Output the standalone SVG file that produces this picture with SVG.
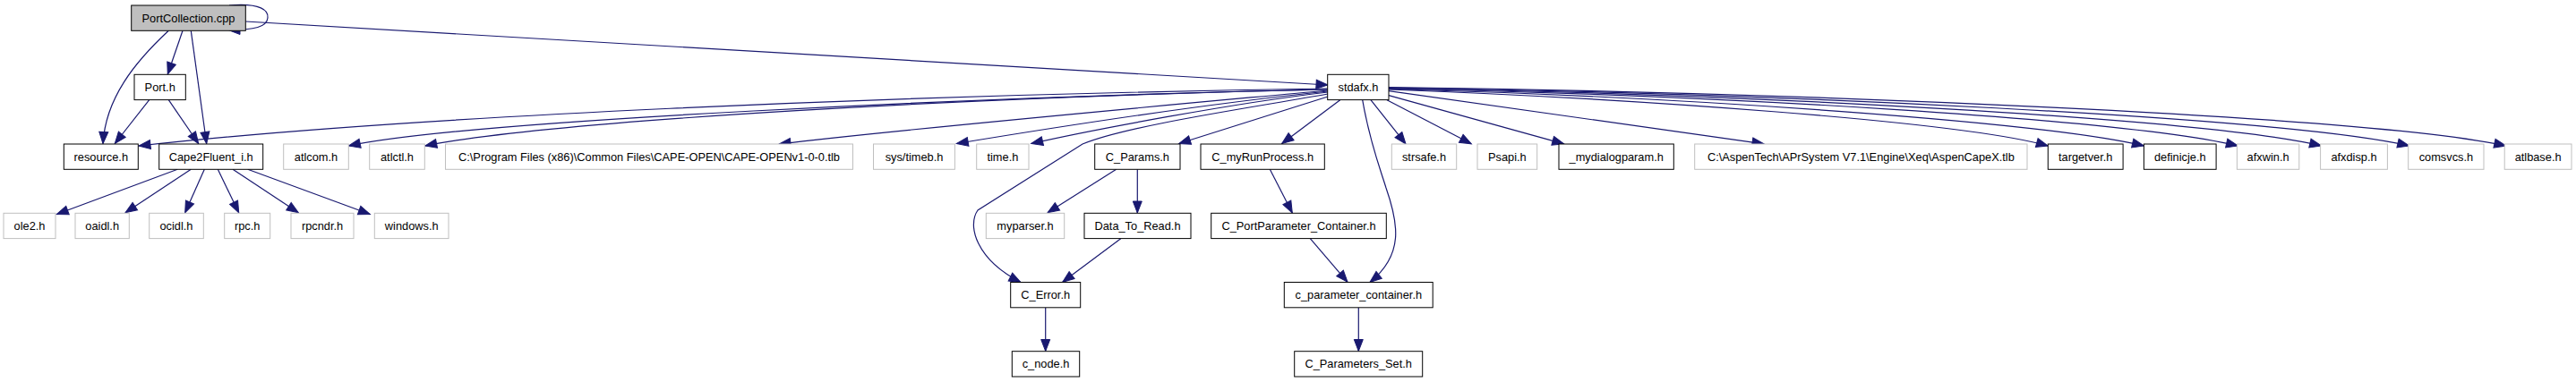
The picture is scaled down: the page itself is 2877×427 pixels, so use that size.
<svg xmlns="http://www.w3.org/2000/svg" width="2877" height="427" viewBox="0 0 2877 427">
<style>
.n rect{fill:#ffffff;stroke:#000000;stroke-width:1}
.g rect{fill:#ffffff;stroke:#bfbfbf;stroke-width:1}
.r rect{fill:#bfbfbf;stroke:#000000;stroke-width:1}
text{font-family:"Liberation Sans",Arial,Helvetica,sans-serif;font-size:12.8px;fill:#000000;text-anchor:middle}
#edges path{fill:none;stroke:#191970;stroke-width:1.2;marker-end:url(#a)}
</style>
<defs>
<marker id="a" markerUnits="userSpaceOnUse" markerWidth="14" markerHeight="11" viewBox="0 0 14 11" refX="13" refY="5" orient="auto" overflow="visible">
<path d="M0,0 L13,5 L0,10 z" fill="#191970" stroke="#191970" stroke-width="1"/>
</marker>
</defs>
<rect width="2877" height="427" fill="#ffffff"/>
<g id="edges">
<path d="M256,6 C292,3 300,12 299,20 C298,30 285,33.5 255,33.5"/>
<path d="M188.3,34.3 C150,70 118,110 115,160.5"/>
<path d="M204,34.3 L187.3,83"/>
<path d="M213.3,34.3 L230.7,160.5"/>
<path d="M274.3,24 L1483,95"/>
<path d="M166.7,111.7 L128.3,160.5"/>
<path d="M188.3,111.7 L221.7,160.5"/>
<path d="M198.3,189.3 L63.3,239.5"/>
<path d="M213.3,189.3 L140,237.8"/>
<path d="M228.3,189.3 L206.7,237.8"/>
<path d="M243.3,189.3 L266.7,237.8"/>
<path d="M260,189.3 L333.3,237.8"/>
<path d="M276.7,189.3 L413.3,239.5"/>
<path d="M1483,99 C1000,106 450,130 155,163"/>
<path d="M1483,100 C1100,108 520,135 389.4,163"/>
<path d="M1483,100 C1100,108 620,134 474.8,163"/>
<path d="M1483,101 C1300,118 1000,145 870,161"/>
<path d="M1483,102 C1330,118 1180,142 1068.3,160.5"/>
<path d="M1483,103 C1380,115 1220,145 1151.7,160.5"/>
<path d="M1483,105 C1400,120 1260,140 1209,161 L1092,235 C1080,252 1090,290 1140,315.5"/>
<path d="M1483,108 L1316.7,160.5"/>
<path d="M1496.7,111.7 L1431.7,160.5"/>
<path d="M1521.7,111.7 C1530,160 1542,190 1548,210 C1562,250 1568,285 1530,315.5"/>
<path d="M1530.9,111.7 L1570,160.8"/>
<path d="M1549,111.7 L1643.3,160.8"/>
<path d="M1551,106.7 L1746.7,160.8"/>
<path d="M1551,101.7 L1970,160.8"/>
<path d="M1551,100 C1816,110 2187,135 2287.3,163"/>
<path d="M1551,99.5 C1880,108 2280,136 2394.4,163"/>
<path d="M1551,99 C1920,106 2370,133 2499.4,163"/>
<path d="M1551,98.5 C1950,105 2460,132 2592.6,163"/>
<path d="M1551,98 C1980,104 2550,131 2690.7,163"/>
<path d="M1551,97.5 C2000,103 2650,130 2798.7,163"/>
<path d="M1246.7,189.3 L1170,237.8"/>
<path d="M1270.3,189.3 L1270.3,238"/>
<path d="M1251.7,266.7 L1186.7,315.3"/>
<path d="M1167.7,344 L1167.7,392.5"/>
<path d="M1418.3,189.3 L1443.3,238"/>
<path d="M1463.3,266.7 L1505,315.3"/>
<path d="M1517.3,344 L1517.3,392.5"/>
</g>
<g id="n_portcollection" class="r"><rect x="146.7" y="6" width="127.6" height="28.3"/><text x="210.5" y="24.7">PortCollection.cpp</text></g>
<g id="n_port" class="n"><rect x="150" y="83.3" width="57.3" height="28.3"/><text x="178.7" y="102">Port.h</text></g>
<g id="n_stdafx" class="n"><rect x="1482.7" y="83.3" width="68.3" height="28.3"/><text x="1516.9" y="102">stdafx.h</text></g>
<g id="n_resource" class="n"><rect x="71.3" y="161" width="83" height="28.3"/><text x="112.8" y="179.7">resource.h</text></g>
<g id="n_cape2fluent" class="n"><rect x="177.7" y="161" width="116" height="28.3"/><text x="235.7" y="179.7">Cape2Fluent_i.h</text></g>
<g id="n_atlcom" class="g"><rect x="316.7" y="161" width="72.6" height="28.3"/><text x="353" y="179.7">atlcom.h</text></g>
<g id="n_atlctl" class="g"><rect x="412.7" y="161" width="61.6" height="28.3"/><text x="443.5" y="179.7">atlctl.h</text></g>
<g id="n_capeopen_tlb" class="g"><rect x="497.5" y="161" width="455" height="28.3"/><text x="725" y="179.7">C:\Program Files (x86)\Common Files\CAPE-OPEN\CAPE-OPENv1-0-0.tlb</text></g>
<g id="n_systimeb" class="g"><rect x="975.5" y="161" width="90.9" height="28.3"/><text x="1021" y="179.7">sys/timeb.h</text></g>
<g id="n_time" class="g"><rect x="1090.7" y="161" width="58.3" height="28.3"/><text x="1119.9" y="179.7">time.h</text></g>
<g id="n_cparams" class="n"><rect x="1222.7" y="161" width="95.3" height="28.3"/><text x="1270.4" y="179.7">C_Params.h</text></g>
<g id="n_cmyrunprocess" class="n"><rect x="1341" y="161" width="138.3" height="28.3"/><text x="1410.2" y="179.7">C_myRunProcess.h</text></g>
<g id="n_strsafe" class="g"><rect x="1554.3" y="161" width="72.4" height="28.3"/><text x="1590.5" y="179.7">strsafe.h</text></g>
<g id="n_psapi" class="g"><rect x="1650" y="161" width="66.7" height="28.3"/><text x="1683.4" y="179.7">Psapi.h</text></g>
<g id="n_mydialogparam" class="n"><rect x="1741" y="161" width="128.3" height="28.3"/><text x="1805.2" y="179.7">_mydialogparam.h</text></g>
<g id="n_aspencapex_tlb" class="g"><rect x="1892.7" y="161" width="371.3" height="28.3"/><text x="2078.4" y="179.7">C:\AspenTech\APrSystem V7.1\Engine\Xeq\AspenCapeX.tlb</text></g>
<g id="n_targetver" class="n"><rect x="2287.3" y="161" width="83.8" height="28.3"/><text x="2329.2" y="179.7">targetver.h</text></g>
<g id="n_definicje" class="n"><rect x="2394.4" y="161" width="80.7" height="28.3"/><text x="2434.8" y="179.7">definicje.h</text></g>
<g id="n_afxwin" class="g"><rect x="2498.4" y="161" width="69.4" height="28.3"/><text x="2533.1" y="179.7">afxwin.h</text></g>
<g id="n_afxdisp" class="g"><rect x="2591.6" y="161" width="74.8" height="28.3"/><text x="2629" y="179.7">afxdisp.h</text></g>
<g id="n_comsvcs" class="g"><rect x="2689.7" y="161" width="84.3" height="28.3"/><text x="2731.9" y="179.7">comsvcs.h</text></g>
<g id="n_atlbase" class="g"><rect x="2797.2" y="161" width="74.8" height="28.3"/><text x="2834.6" y="179.7">atlbase.h</text></g>
<g id="n_ole2" class="g"><rect x="4" y="238.3" width="58" height="28.3"/><text x="33" y="257">ole2.h</text></g>
<g id="n_oaidl" class="g"><rect x="84" y="238.3" width="60.3" height="28.3"/><text x="114.2" y="257">oaidl.h</text></g>
<g id="n_ocidl" class="g"><rect x="166.7" y="238.3" width="60.6" height="28.3"/><text x="197" y="257">ocidl.h</text></g>
<g id="n_rpc" class="g"><rect x="250.7" y="238.3" width="51" height="28.3"/><text x="276.2" y="257">rpc.h</text></g>
<g id="n_rpcndr" class="g"><rect x="325" y="238.3" width="70" height="28.3"/><text x="360" y="257">rpcndr.h</text></g>
<g id="n_windows" class="g"><rect x="418.3" y="238.3" width="82.7" height="28.3"/><text x="459.7" y="257">windows.h</text></g>
<g id="n_myparser" class="g"><rect x="1101.3" y="238.3" width="87.4" height="28.3"/><text x="1145" y="257">myparser.h</text></g>
<g id="n_datatoread" class="n"><rect x="1211" y="238.3" width="119" height="28.3"/><text x="1270.5" y="257">Data_To_Read.h</text></g>
<g id="n_cportparameter" class="n"><rect x="1352.7" y="238.3" width="195.6" height="28.3"/><text x="1450.5" y="257">C_PortParameter_Container.h</text></g>
<g id="n_cerror" class="n"><rect x="1128.7" y="315.5" width="78" height="28.3"/><text x="1167.7" y="334.2">C_Error.h</text></g>
<g id="n_cparametercontainer" class="n"><rect x="1434.3" y="315.5" width="165.9" height="28.3"/><text x="1517.3" y="334.2">c_parameter_container.h</text></g>
<g id="n_cnode" class="n"><rect x="1130.3" y="392.7" width="75.4" height="28.3"/><text x="1168" y="411.4">c_node.h</text></g>
<g id="n_cparametersset" class="n"><rect x="1445.7" y="392.7" width="143" height="28.3"/><text x="1517.2" y="411.4">C_Parameters_Set.h</text></g>
</svg>
